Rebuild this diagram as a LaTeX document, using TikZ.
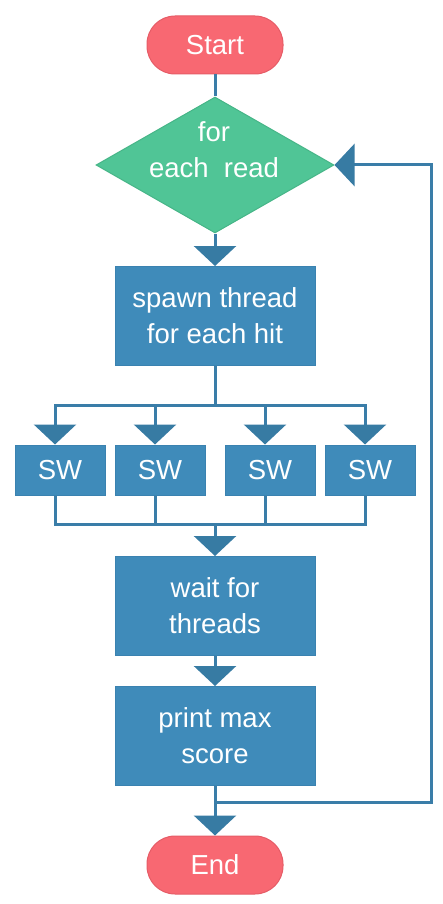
\documentclass[tikz,border=0pt]{standalone}
\usepackage{fontspec}
\setmainfont{Liberation Sans}
\usetikzlibrary{shapes.geometric,arrows.meta}
\definecolor{lineblue}{HTML}{3A7DA8}
\definecolor{arrowblue}{HTML}{377BA3}
\definecolor{boxfill}{HTML}{3F8BBA}
\definecolor{boxdraw}{HTML}{3A82B0}
\definecolor{termfill}{HTML}{F86872}
\definecolor{termdraw}{HTML}{E65C67}
\definecolor{decfill}{HTML}{50C596}
\definecolor{decdraw}{HTML}{46B587}
\begin{document}
\begin{tikzpicture}[x=1pt,y=-1pt,
  txt/.style={text=white,font=\fontsize{27.5}{36}\selectfont,align=center},
  term/.style={txt,rectangle,rounded corners=28pt,fill=termfill,draw=termdraw,line width=1pt,minimum width=136pt,minimum height=58pt,inner sep=0pt},
  decbox/.style={diamond,fill=decfill,draw=decdraw,line width=1pt,minimum width=238pt,minimum height=136pt,inner sep=0pt},
  procbox/.style={txt,rectangle,fill=boxfill,draw=boxdraw,line width=1pt,minimum width=200pt,minimum height=99pt,inner sep=0pt},
  swbox/.style={txt,rectangle,fill=boxfill,draw=boxdraw,line width=1pt,minimum width=90pt,minimum height=50pt,inner sep=0pt},
  conn/.style={draw=lineblue,line width=3pt},
  arr/.style={conn,-{Triangle[length=20pt,width=42pt,color=arrowblue]}}]
\useasboundingbox (0,0) rectangle (443,904);
\node[term] (start) at (215,45) {Start};
\node[decbox] (dec) at (215,165) {};
\node[txt] (dtext) at (214,150) {for\\each\ \ read};
\node[procbox] (spawn) at (215,316) {spawn thread\\for each hit};
\node[swbox] (sw1) at (60,470) {SW};
\node[swbox] (sw2) at (160,470) {SW};
\node[swbox] (sw3) at (270,470) {SW};
\node[swbox] (sw4) at (370,470) {SW};
\node[procbox] (wait) at (215,606) {wait for\\threads};
\node[procbox] (print) at (215,736) {print max\\score};
\node[term] (end) at (215,865) {End};
\coordinate (fork) at (215,405);
\coordinate (join) at (215,524);
\coordinate (ret) at (215,802);
\coordinate (rc) at (431,165);
\draw[conn] (start) -- (dec);
\draw[arr] (dec) -- (spawn);
\draw[conn] (spawn) -- (fork);
\draw[arr] (fork) -| ([xshift=-5pt]sw1.north);
\draw[arr] (fork) -| ([xshift=-5pt]sw2.north);
\draw[arr] (fork) -| ([xshift=-5pt]sw3.north);
\draw[arr] (fork) -| ([xshift=-5pt]sw4.north);
\draw[conn] ([xshift=-5pt]sw1.south) |- (join);
\draw[conn] ([xshift=-5pt]sw2.south) |- (join);
\draw[conn] ([xshift=-5pt]sw3.south) |- (join);
\draw[conn] ([xshift=-5pt]sw4.south) |- (join);
\draw[arr] (join) -- (wait);
\draw[arr] (wait) -- (print);
\draw[arr] (print) -- (end);
\draw[arr] (ret) -| (rc) -- (dec.east);
\end{tikzpicture}
\end{document}
